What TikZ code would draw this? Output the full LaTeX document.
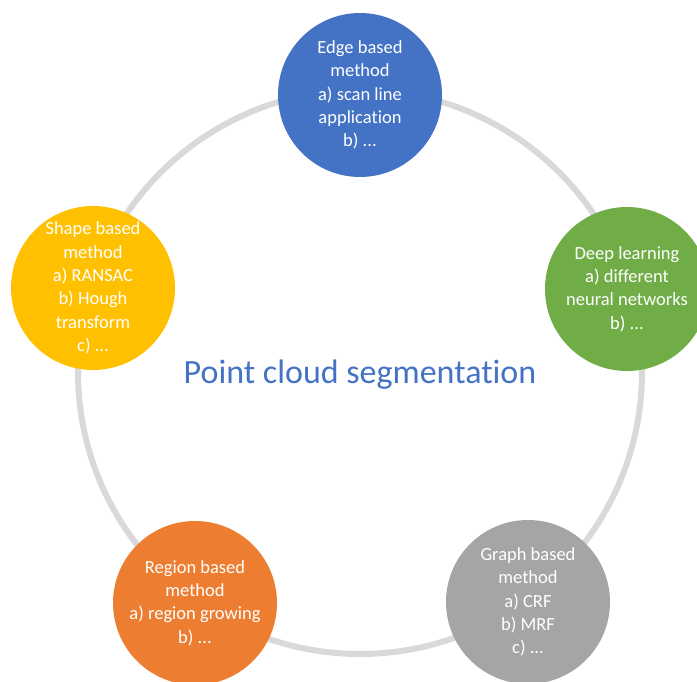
\documentclass[tikz,border=0pt]{standalone}
\usepackage{fontspec}
\setmainfont{Carlito}[RawFeature=-liga]
\usepackage{xcolor}
\usetikzlibrary{positioning}

\definecolor{ringgray}{HTML}{D9D9D9}
\definecolor{edgeblue}{HTML}{4472C4}
\definecolor{deepgreen}{HTML}{70AD47}
\definecolor{graphgray}{HTML}{A5A5A5}
\definecolor{regionorange}{HTML}{ED7D31}
\definecolor{shapeyellow}{HTML}{FFC000}

\begin{document}
\begin{tikzpicture}[x=1pt, y=-1pt]

    \tikzstyle{method} = [circle, minimum size=164pt, inner sep=0pt, text=white, align=center, font=\fontsize{18.5}{23.3}\selectfont]
    \tikzstyle{ring} = [draw=ringgray, line width=6pt]
    \tikzstyle{title} = [text=edgeblue, font=\fontsize{34}{40}\selectfont]

    \useasboundingbox (0,0) rectangle (697,682);

    \coordinate (hub) at (360,372);
    \draw [ring] (hub) circle (282);

    \node (edge) [method, fill=edgeblue] at (360,95) {Edge based\\method\\a) scan line\\application\\b) ...};
    \node (deep) [method, fill=deepgreen] at (627,289) {Deep learning\\a) different\\neural networks\\b) ...};
    \node (graph) [method, fill=graphgray] at (528,602) {Graph based\\method\\a) CRF\\b) MRF\\c) ...};
    \node (region) [method, fill=regionorange] at (195,603) {Region based\\method\\a) region growing\\b) ...};
    \node (shape) [method, fill=shapeyellow] at (93,288) {Shape based\\method\\a) RANSAC\\b) Hough\\transform\\c) ...};

    \node (seg) [title] at (360,375) {Point cloud segmentation};

\end{tikzpicture}
\end{document}
